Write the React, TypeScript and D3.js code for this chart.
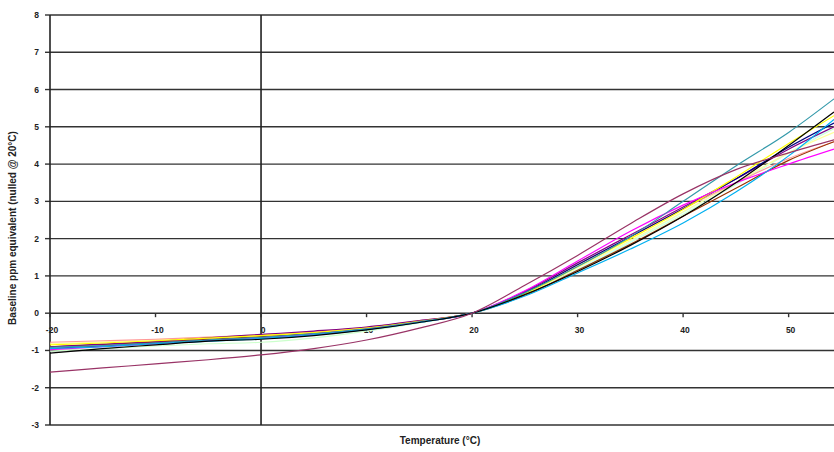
import React from "react";
import * as d3 from "d3";

const temps = [-20, -15, -10, -5, 0, 5, 10, 15, 20, 25, 30, 35, 40, 45, 50, 54.3];

const seriesNames = ["S1", "S2", "S3", "S4", "S5", "S6", "S7", "S8", "S9", "S10", "S11", "S12", "S13"];
const seriesColors = [
  "#CCFFCC", "#CCFFFF", "#FFFF99", "#FF9999", "#993300", "#800080",
  "#000080", "#FFFF00", "#FF00FF", "#3399AA", "#00B0F0", "#000000", "#993366",
];
const seriesValues: number[][] = [
  [-1.02, -0.95, -0.88, -0.82, -0.78, -0.66, -0.48, -0.26, 0, 0.5, 1.15, 1.9, 2.65, 3.45, 4.3, 4.95],
  [-0.97, -0.9, -0.83, -0.76, -0.7, -0.58, -0.44, -0.24, 0, 0.5, 1.18, 1.92, 2.7, 3.5, 4.3, 5.0],
  [-0.82, -0.77, -0.71, -0.65, -0.6, -0.51, -0.39, -0.21, 0, 0.52, 1.22, 1.95, 2.72, 3.5, 4.3, 4.85],
  [-0.78, -0.74, -0.7, -0.64, -0.58, -0.5, -0.38, -0.2, 0, 0.56, 1.3, 2.05, 2.8, 3.5, 4.15, 4.6],
  [-0.9, -0.84, -0.77, -0.7, -0.63, -0.54, -0.41, -0.22, 0, 0.48, 1.15, 1.85, 2.6, 3.35, 4.1, 4.6],
  [-0.9, -0.83, -0.76, -0.66, -0.57, -0.48, -0.37, -0.2, 0, 0.58, 1.35, 2.1, 2.85, 3.6, 4.4, 5.0],
  [-0.95, -0.88, -0.8, -0.73, -0.66, -0.55, -0.42, -0.23, 0, 0.55, 1.3, 2.05, 2.8, 3.6, 4.45, 5.1],
  [-0.85, -0.8, -0.74, -0.67, -0.6, -0.52, -0.4, -0.22, 0, 0.52, 1.25, 2.0, 2.78, 3.65, 4.55, 5.3],
  [-0.98, -0.9, -0.82, -0.74, -0.66, -0.56, -0.43, -0.24, 0, 0.6, 1.4, 2.2, 2.9, 3.5, 4.0, 4.4],
  [-0.92, -0.87, -0.8, -0.72, -0.65, -0.55, -0.42, -0.23, 0, 0.55, 1.25, 2.05, 3.0, 3.95, 4.85, 5.75],
  [-0.95, -0.9, -0.82, -0.75, -0.68, -0.58, -0.44, -0.25, 0, 0.46, 1.08, 1.72, 2.42, 3.25, 4.22, 5.2],
  [-1.07, -0.95, -0.85, -0.75, -0.7, -0.6, -0.45, -0.25, 0, 0.5, 1.12, 1.82, 2.6, 3.5, 4.5, 5.4],
  [-1.58, -1.47, -1.36, -1.25, -1.12, -0.95, -0.72, -0.4, 0, 0.75, 1.55, 2.4, 3.2, 3.85, 4.3, 4.65],
];

const xTicks = [-20, -10, 0, 10, 20, 30, 40, 50];
const yTicks = [-3, -2, -1, 0, 1, 2, 3, 4, 5, 6, 7, 8];

const xLabel = "Temperature (°C)";
const yLabel = "Baseline ppm equivalent (nulled @ 20°C)";

export default function App() {
  const W = 834;
  const H = 452;
  const x = d3.scaleLinear().domain([-20, 54.3]).range([50, 834]);
  const y = d3.scaleLinear().domain([-3, 8]).range([425, 15]);
  const line = d3
    .line<number>()
    .x((_, i) => x(temps[i]))
    .y((v) => y(v))
    .curve(d3.curveMonotoneX);
  const font = "'Liberation Sans', Arial, sans-serif";

  return (
    <svg
      width={W}
      height={H}
      style={{ position: "absolute", left: 0, top: 0, background: "#fff" }}
      fontFamily={font}
    >
      {yTicks.map((t) => (
        <g key={"g" + t}>
          <line x1={x(-20)} x2={W} y1={y(t)} y2={y(t)} stroke="#333" strokeWidth={1.4} />
          <line x1={x(-20) - 5} x2={x(-20)} y1={y(t)} y2={y(t)} stroke="#333" strokeWidth={1.4} />
          <text x={x(-20) - 11} y={y(t)} dy="0.35em" textAnchor="end" fontSize={8.5} fontWeight="bold" fill="#222">
            {t}
          </text>
        </g>
      ))}
      <line x1={x(-20)} x2={x(-20)} y1={y(8)} y2={y(-3)} stroke="#222" strokeWidth={1.6} />
      <line x1={x(0)} x2={x(0)} y1={y(8)} y2={y(-3)} stroke="#222" strokeWidth={1.6} />
      {xTicks.map((t) => (
        <g key={"x" + t}>
          <line x1={x(t)} x2={x(t)} y1={y(0)} y2={y(0) + 4} stroke="#333" strokeWidth={1.4} />
          <text x={x(t) + 2} y={y(0) + 20} textAnchor="middle" fontSize={8.5} fontWeight="bold" fill="#222">
            {t}
          </text>
        </g>
      ))}
      {seriesValues.map((vals, i) => (
        <path
          key={seriesNames[i]}
          d={line(vals) || ""}
          fill="none"
          stroke={seriesColors[i]}
          strokeWidth={1.2}
        />
      ))}
      <text x={440} y={444} textAnchor="middle" fontSize={10} fontWeight="bold" fill="#222">
        {xLabel}
      </text>
      <text
        transform={`translate(16,${228}) rotate(-90)`}
        textAnchor="middle"
        fontSize={10}
        fontWeight="bold"
        fill="#222"
      >
        {yLabel}
      </text>
    </svg>
  );
}
